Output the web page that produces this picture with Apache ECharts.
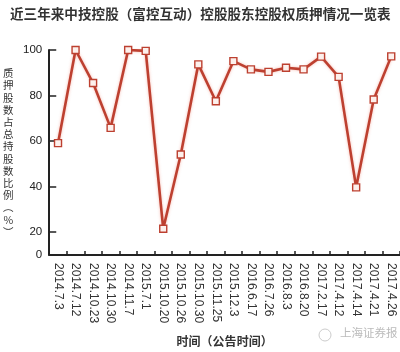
<!DOCTYPE html>
<html><head><meta charset="utf-8">
<script src="https://cdn.jsdelivr.net/npm/echarts@6/dist/echarts.min.js"></script>
<style>html,body{margin:0;padding:0;background:#fff}#c{width:400px;height:352px}</style>
</head><body><div id="c"></div>
<script>
const titleText = '近三年来中技控股（富控互动）控股股东控股权质押情况一览表';
const yAxisName = ['质','押','股','数','占','总','持','股','数','比','例','︵','%','︶'];
const xAxisName = '时间（公告时间）';
const watermark = '上海证券报';
const categories = ['2014.7.3','2014.7.12','2014.10.23','2014.10.30','2014.11.7','2015.7.1','2015.10.20','2015.10.26','2015.10.30','2015.11.25','2015.12.3','2016.6.17','2016.7.26','2016.8.3','2016.8.20','2017.2.17','2017.4.12','2017.4.14','2017.4.21','2017.4.26'];
const pledgeRatio = [59.1,100,85.5,65.8,100,99.6,21.5,54.1,93.7,77.5,95.1,91.5,90.4,92.2,91.5,97.1,88.2,39.7,78.3,97.2];
const yTickValues = [20,40,60,80,100];
const yLabelValues = [10,20,40,60,80,100];
const yLabelText = {10:'0',20:'20',40:'40',60:'60',80:'80',100:'100'};

const chart = echarts.init(document.getElementById('c'), null, {renderer:'canvas'});
const font = '"Noto Sans CJK SC", "Noto Sans", sans-serif';
chart.setOption({
  animation:false,
  backgroundColor:'#fff',
  textStyle:{fontFamily:font},
  title:{text:titleText,left:5,top:2,textStyle:{fontSize:13.6,fontWeight:'bold',color:'#333',fontFamily:font}},
  grid:{left:46.7,right:0,top:50,bottom:84,containLabel:false},
  xAxis:{
    type:'category',data:categories,boundaryGap:true,
    name:xAxisName,nameLocation:'middle',nameGap:80,
    nameTextStyle:{fontSize:12,fontWeight:'bold',color:'#333',fontFamily:font},
    axisLine:{lineStyle:{color:'#222',width:2}},
    axisTick:{show:true,inside:true,length:4,lineStyle:{color:'#222',width:1.5}},
    axisLabel:{rotate:-90,margin:8,fontSize:12,color:'#333',fontFamily:'"Liberation Sans", Arial, sans-serif'},
    splitLine:{show:false}
  },
  yAxis:{
    type:'value',min:10,max:100,interval:10,
    name:yAxisName.join('\n'),nameLocation:'middle',nameGap:41,nameRotate:0,
    nameTextStyle:{fontSize:10.5,lineHeight:12.2,color:'#333',fontFamily:font,align:'center',verticalAlign:'middle'},
    axisLine:{show:true,lineStyle:{color:'#222',width:2}},
    axisTick:{show:true,inside:true,length:7,customValues:yTickValues,lineStyle:{color:'#222',width:1.5}},
    axisLabel:{customValues:yLabelValues,margin:7,fontSize:11.5,color:'#222',fontFamily:'"Liberation Sans", Arial, sans-serif',
      formatter:v=>yLabelText[v]||''},
    splitLine:{show:false}
  },
  graphic:[
    {type:'text',left:340,top:327,style:{text:watermark,fontSize:11.5,fill:'#bbb',fontFamily:font}},
    {type:'circle',shape:{cx:325,cy:335,r:6},style:{fill:'none',stroke:'#ccc',lineWidth:1}}
  ],
  series:[{
    type:'line',data:pledgeRatio,
    symbol:'rect',symbolSize:7,
    lineStyle:{color:'#bd4030',width:2.6,shadowColor:'rgba(240,120,100,0.5)',shadowBlur:3},
    itemStyle:{color:'#fdf0ec',borderColor:'#bd4030',borderWidth:1.4}
  }]
});
</script></body></html>
